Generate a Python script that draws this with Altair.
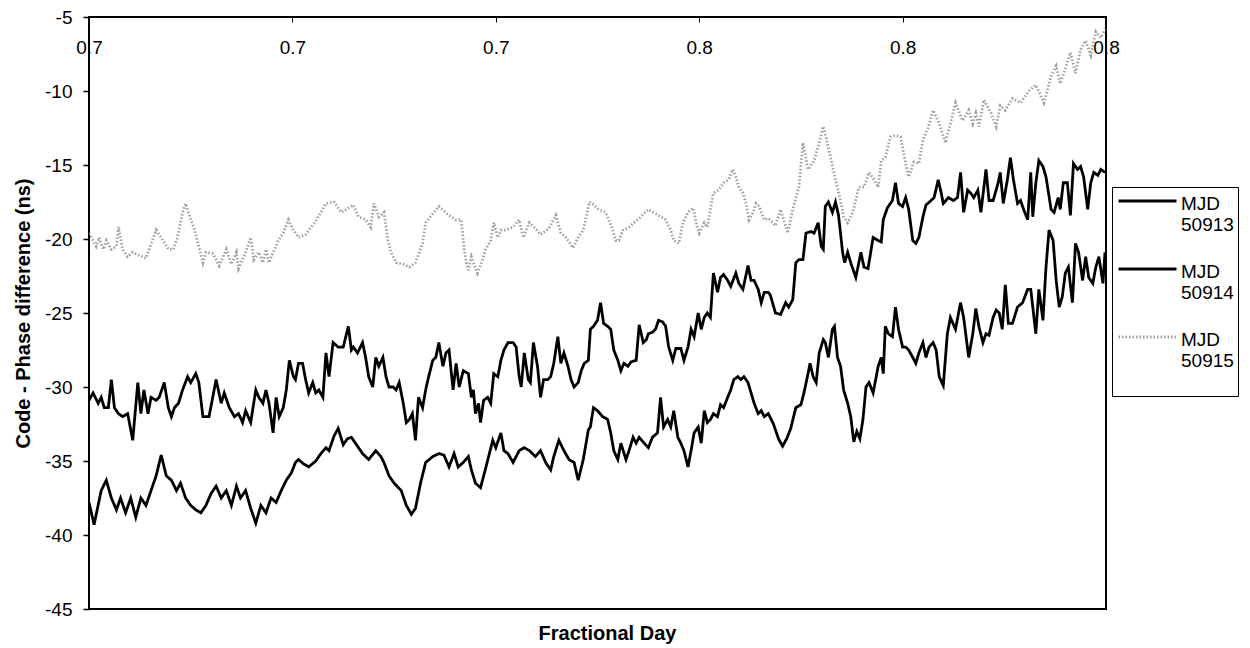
import altair as alt
import pandas as pd

FONT = "Liberation Sans"

series_names = ["MJD 50913", "MJD 50914", "MJD 50915"]
x_ticks = [0.70, 0.72, 0.74, 0.76, 0.78, 0.80]
y_ticks = [-45, -40, -35, -30, -25, -20, -15, -10, -5]

# (fractional day, code - phase difference in ns)
mjd50913 = [
    (0.7000,-30.9),(0.7004,-30.4),(0.7009,-31.1),(0.7012,-30.7),(0.7015,-31.4),(0.7019,-31.4),(0.7022,-29.5),(0.7025,-31.4),(0.7029,-31.8),(0.7033,-32.0),
    (0.7038,-31.8),(0.7043,-33.6),(0.7048,-29.7),(0.7051,-31.8),(0.7054,-30.2),(0.7058,-31.8),(0.7061,-30.7),(0.7066,-30.9),(0.7069,-30.7),(0.7074,-29.7),
    (0.7078,-31.4),(0.7081,-32.0),(0.7084,-31.4),(0.7088,-31.1),(0.7092,-30.2),(0.7097,-29.3),(0.7100,-29.7),(0.7105,-29.1),(0.7108,-29.7),(0.7112,-32.0),
    (0.7118,-32.0),(0.7125,-29.5),(0.7130,-31.1),(0.7133,-30.4),(0.7138,-31.4),(0.7143,-32.0),(0.7147,-31.8),(0.7151,-32.4),(0.7154,-31.6),(0.7159,-32.4),
    (0.7164,-30.2),(0.7167,-30.7),(0.7171,-31.1),(0.7174,-30.2),(0.7177,-31.1),(0.7181,-33.1),(0.7184,-30.7),(0.7187,-32.0),(0.7191,-31.4),(0.7194,-30.2),
    (0.7197,-28.2),(0.7201,-29.3),(0.7203,-29.5),(0.7206,-28.4),(0.7210,-28.4),(0.7213,-29.5),(0.7216,-30.4),(0.7220,-29.7),(0.7223,-30.4),(0.7226,-30.2),
    (0.7230,-30.7),(0.7233,-27.7),(0.7236,-29.3),(0.7240,-27.0),(0.7245,-27.3),(0.7250,-27.3),(0.7255,-25.9),(0.7258,-27.5),(0.7260,-27.3),(0.7264,-27.7),
    (0.7269,-27.0),(0.7272,-28.0),(0.7275,-29.3),(0.7279,-30.0),(0.7282,-28.0),(0.7285,-28.6),(0.7289,-28.0),(0.7292,-29.3),(0.7295,-30.0),(0.7299,-30.0),
    (0.7302,-30.2),(0.7305,-29.7),(0.7309,-31.1),(0.7312,-32.4),(0.7315,-32.2),(0.7318,-31.8),(0.7321,-33.6),(0.7324,-30.7),(0.7328,-31.4),(0.7331,-30.2),
    (0.7334,-29.3),(0.7338,-28.2),(0.7341,-28.0),(0.7344,-27.0),(0.7348,-28.6),(0.7351,-27.7),(0.7354,-27.5),(0.7358,-30.2),(0.7361,-28.4),(0.7364,-30.0),
    (0.7368,-28.9),(0.7373,-29.1),(0.7376,-30.7),(0.7378,-30.2),(0.7380,-31.8),(0.7383,-31.1),(0.7385,-32.4),(0.7388,-30.9),(0.7392,-30.7),(0.7395,-31.1),
    (0.7398,-29.1),(0.7402,-29.3),(0.7405,-28.2),(0.7408,-27.5),(0.7412,-27.0),(0.7417,-27.0),(0.7420,-27.3),(0.7423,-29.3),(0.7425,-30.0),(0.7428,-27.7),
    (0.7432,-29.5),(0.7434,-29.7),(0.7437,-27.0),(0.7441,-28.6),(0.7444,-30.7),(0.7447,-29.5),(0.7451,-29.5),(0.7454,-29.3),(0.7457,-28.4),(0.7461,-26.6),
    (0.7464,-28.4),(0.7467,-27.7),(0.7471,-28.6),(0.7474,-29.5),(0.7477,-30.0),(0.7481,-29.7),(0.7484,-28.9),(0.7487,-28.4),(0.7491,-28.2),(0.7493,-26.1),
    (0.7496,-25.9),(0.7500,-25.5),(0.7503,-24.3),(0.7506,-25.7),(0.7510,-25.9),(0.7513,-26.1),(0.7516,-27.5),(0.7520,-28.2),(0.7523,-28.9),(0.7526,-28.4),
    (0.7530,-28.6),(0.7533,-28.3),(0.7538,-28.2),(0.7541,-25.8),(0.7545,-27.0),(0.7548,-26.8),(0.7550,-26.4),(0.7554,-26.3),(0.7557,-26.1),(0.7560,-25.5),
    (0.7564,-25.6),(0.7567,-25.9),(0.7570,-27.3),(0.7574,-28.2),(0.7577,-27.4),(0.7582,-27.4),(0.7585,-28.2),(0.7589,-27.3),(0.7592,-26.1),(0.7595,-26.6),
    (0.7599,-25.0),(0.7602,-26.1),(0.7605,-25.3),(0.7608,-25.0),(0.7611,-25.3),(0.7614,-22.3),(0.7618,-23.6),(0.7621,-22.6),(0.7624,-22.4),(0.7628,-22.8),
    (0.7631,-23.2),(0.7636,-22.3),(0.7639,-23.0),(0.7643,-23.4),(0.7648,-21.8),(0.7651,-22.8),(0.7654,-22.8),(0.7658,-23.4),(0.7661,-24.3),(0.7664,-23.6),
    (0.7668,-23.6),(0.7670,-23.8),(0.7675,-25.0),(0.7680,-25.1),(0.7685,-24.3),(0.7688,-24.6),(0.7692,-24.1),(0.7695,-21.6),(0.7698,-21.4),(0.7702,-21.4),
    (0.7705,-19.6),(0.7710,-19.5),(0.7713,-19.6),(0.7717,-18.9),(0.7720,-20.5),(0.7722,-20.7),(0.7724,-17.8),(0.7727,-17.5),(0.7731,-18.2),(0.7734,-17.5),
    (0.7737,-18.4),(0.7741,-20.9),(0.7743,-21.6),(0.7746,-20.9),(0.7749,-21.6),(0.7754,-22.6),(0.7759,-20.9),(0.7762,-21.9),(0.7766,-22.0),(0.7771,-19.9),
    (0.7776,-20.1),(0.7779,-20.2),(0.7781,-18.7),(0.7785,-17.9),(0.7790,-17.4),(0.7793,-16.2),(0.7796,-17.6),(0.7800,-17.8),(0.7803,-17.2),(0.7806,-18.0),
    (0.7810,-20.1),(0.7813,-20.3),(0.7816,-19.9),(0.7820,-18.5),(0.7823,-17.7),(0.7828,-17.4),(0.7831,-17.2),(0.7835,-16.0),(0.7838,-16.9),(0.7840,-17.6),
    (0.7845,-17.2),(0.7850,-17.4),(0.7854,-17.2),(0.7857,-15.5),(0.7860,-18.2),(0.7864,-16.7),(0.7867,-16.9),(0.7870,-17.2),(0.7874,-16.7),(0.7877,-18.2),
    (0.7882,-15.3),(0.7885,-17.4),(0.7889,-17.4),(0.7894,-16.2),(0.7896,-15.5),(0.7899,-17.6),(0.7903,-16.0),(0.7906,-14.5),(0.7909,-16.0),(0.7913,-17.6),
    (0.7916,-17.4),(0.7919,-18.0),(0.7923,-18.7),(0.7926,-15.5),(0.7928,-18.5),(0.7931,-16.2),(0.7934,-14.7),(0.7938,-15.1),(0.7941,-15.8),(0.7946,-18.0),
    (0.7949,-18.2),(0.7953,-17.2),(0.7955,-18.0),(0.7958,-16.2),(0.7962,-16.2),(0.7965,-18.4),(0.7968,-14.9),(0.7972,-15.3),(0.7975,-15.1),(0.7978,-15.8),
    (0.7982,-18.0),(0.7985,-16.2),(0.7988,-15.5),(0.7992,-15.7),(0.7995,-15.3),(0.7999,-15.5),
]

mjd50914 = [
    (0.7000,-37.8),(0.7005,-39.3),(0.7012,-37.0),(0.7017,-36.3),(0.7022,-37.5),(0.7027,-38.3),(0.7031,-37.5),(0.7036,-38.5),(0.7041,-37.5),(0.7046,-38.8),
    (0.7051,-37.5),(0.7056,-38.0),(0.7061,-37.0),(0.7066,-36.0),(0.7071,-34.6),(0.7076,-36.0),(0.7081,-36.3),(0.7086,-37.0),(0.7090,-36.5),(0.7095,-37.5),
    (0.7100,-38.0),(0.7105,-38.3),(0.7110,-38.5),(0.7115,-38.0),(0.7120,-37.2),(0.7125,-36.7),(0.7130,-37.5),(0.7135,-37.0),(0.7140,-38.0),(0.7145,-36.7),
    (0.7149,-37.5),(0.7154,-37.0),(0.7159,-38.2),(0.7164,-39.2),(0.7169,-38.0),(0.7174,-38.5),(0.7179,-37.5),(0.7184,-37.8),(0.7189,-37.0),(0.7194,-36.3),
    (0.7199,-35.8),(0.7203,-35.1),(0.7206,-34.9),(0.7211,-35.2),(0.7216,-35.4),(0.7223,-35.0),(0.7228,-34.5),(0.7233,-34.1),(0.7236,-34.3),(0.7241,-33.3),
    (0.7245,-32.8),(0.7250,-33.9),(0.7254,-33.5),(0.7258,-33.4),(0.7262,-33.8),(0.7269,-34.5),(0.7275,-34.9),(0.7282,-34.3),(0.7287,-34.7),(0.7290,-35.1),
    (0.7295,-36.0),(0.7300,-36.5),(0.7307,-37.0),(0.7312,-38.0),(0.7317,-38.6),(0.7321,-38.2),(0.7326,-36.5),(0.7331,-35.1),(0.7338,-34.7),(0.7344,-34.5),
    (0.7349,-34.6),(0.7354,-35.4),(0.7359,-34.5),(0.7363,-35.4),(0.7368,-35.1),(0.7373,-34.7),(0.7376,-35.6),(0.7380,-36.5),(0.7385,-36.8),(0.7390,-35.5),
    (0.7397,-33.6),(0.7400,-34.1),(0.7405,-33.1),(0.7408,-34.3),(0.7412,-34.5),(0.7417,-35.1),(0.7423,-34.3),(0.7428,-34.1),(0.7433,-34.3),(0.7439,-34.7),
    (0.7444,-34.3),(0.7449,-35.1),(0.7454,-35.6),(0.7457,-34.7),(0.7462,-33.6),(0.7467,-34.3),(0.7472,-34.9),(0.7477,-35.1),(0.7481,-36.3),(0.7486,-34.9),
    (0.7491,-32.9),(0.7493,-32.7),(0.7496,-31.4),(0.7500,-31.6),(0.7505,-32.0),(0.7510,-32.2),(0.7513,-33.1),(0.7516,-34.3),(0.7520,-34.9),(0.7523,-33.8),
    (0.7528,-34.9),(0.7531,-34.3),(0.7535,-33.4),(0.7538,-33.8),(0.7541,-33.4),(0.7546,-33.8),(0.7550,-34.1),(0.7554,-33.4),(0.7559,-33.1),(0.7562,-30.7),
    (0.7565,-32.7),(0.7569,-32.2),(0.7572,-32.7),(0.7575,-31.6),(0.7579,-33.4),(0.7582,-33.8),(0.7585,-34.3),(0.7589,-35.4),(0.7592,-34.3),(0.7595,-33.1),
    (0.7599,-32.7),(0.7602,-33.8),(0.7605,-31.6),(0.7608,-32.4),(0.7611,-32.2),(0.7614,-31.8),(0.7618,-32.0),(0.7621,-31.2),(0.7624,-31.4),(0.7628,-30.7),
    (0.7631,-30.2),(0.7634,-29.5),(0.7638,-29.3),(0.7641,-29.5),(0.7644,-29.3),(0.7648,-29.7),(0.7651,-30.4),(0.7654,-31.1),(0.7658,-31.8),(0.7661,-31.6),
    (0.7664,-32.0),(0.7668,-31.8),(0.7673,-32.5),(0.7678,-33.5),(0.7682,-34.0),(0.7686,-33.5),(0.7690,-32.8),(0.7695,-31.4),(0.7700,-31.2),(0.7703,-30.4),
    (0.7707,-29.1),(0.7709,-28.4),(0.7712,-29.3),(0.7715,-29.7),(0.7718,-27.7),(0.7722,-26.8),(0.7724,-27.0),(0.7727,-28.0),(0.7731,-26.1),(0.7733,-25.9),
    (0.7736,-28.0),(0.7739,-28.6),(0.7742,-30.2),(0.7746,-31.1),(0.7749,-32.0),(0.7752,-33.7),(0.7755,-33.0),(0.7758,-33.5),(0.7761,-32.2),(0.7764,-30.0),
    (0.7767,-29.7),(0.7771,-30.4),(0.7776,-28.6),(0.7779,-28.0),(0.7781,-29.1),(0.7783,-25.9),(0.7786,-26.4),(0.7790,-26.6),(0.7793,-24.6),(0.7796,-26.1),
    (0.7800,-27.3),(0.7803,-27.3),(0.7806,-27.5),(0.7810,-28.0),(0.7813,-28.4),(0.7816,-27.7),(0.7820,-27.0),(0.7823,-28.0),(0.7826,-27.3),(0.7830,-27.0),
    (0.7833,-27.5),(0.7836,-29.3),(0.7840,-29.9),(0.7844,-26.4),(0.7847,-25.3),(0.7852,-26.1),(0.7857,-24.3),(0.7860,-25.3),(0.7865,-28.0),(0.7869,-26.4),
    (0.7872,-24.7),(0.7875,-25.9),(0.7879,-27.0),(0.7882,-26.4),(0.7885,-26.5),(0.7889,-25.3),(0.7892,-24.8),(0.7895,-25.0),(0.7898,-26.1),(0.7901,-23.1),
    (0.7904,-25.7),(0.7908,-25.7),(0.7913,-24.6),(0.7918,-24.3),(0.7923,-23.4),(0.7926,-23.4),(0.7931,-26.4),(0.7934,-23.4),(0.7938,-25.5),(0.7941,-21.9),
    (0.7944,-19.4),(0.7948,-20.1),(0.7951,-22.8),(0.7954,-24.6),(0.7957,-23.9),(0.7960,-22.3),(0.7963,-21.9),(0.7967,-24.3),(0.7970,-20.3),(0.7973,-20.9),
    (0.7977,-22.8),(0.7980,-21.2),(0.7983,-22.6),(0.7987,-23.0),(0.7990,-21.9),(0.7993,-21.2),(0.7997,-23.0),(0.7999,-20.9),
]

mjd50915 = [
    (0.7000,-19.6),(0.7004,-20.1),(0.7007,-20.5),(0.7010,-19.9),(0.7014,-20.7),(0.7017,-20.1),(0.7022,-20.7),(0.7027,-20.5),(0.7029,-19.2),(0.7033,-20.7),
    (0.7038,-21.2),(0.7043,-20.9),(0.7049,-21.1),(0.7056,-21.3),(0.7066,-19.4),(0.7073,-20.1),(0.7078,-20.7),(0.7083,-20.7),(0.7087,-19.9),(0.7092,-18.2),
    (0.7095,-17.6),(0.7100,-18.7),(0.7103,-19.2),(0.7108,-20.5),(0.7112,-21.6),(0.7115,-20.9),(0.7122,-21.0),(0.7128,-21.8),(0.7135,-20.7),(0.7140,-21.7),
    (0.7145,-20.9),(0.7147,-22.0),(0.7154,-20.9),(0.7159,-19.9),(0.7162,-21.4),(0.7167,-20.9),(0.7171,-21.6),(0.7174,-20.7),(0.7177,-21.6),(0.7181,-20.9),
    (0.7184,-20.5),(0.7186,-20.1),(0.7191,-19.6),(0.7196,-18.7),(0.7201,-19.4),(0.7206,-19.9),(0.7213,-19.7),(0.7223,-18.8),(0.7233,-17.6),(0.7241,-17.5),
    (0.7248,-18.2),(0.7253,-18.0),(0.7260,-17.7),(0.7265,-18.5),(0.7272,-18.7),(0.7277,-19.2),(0.7280,-17.6),(0.7285,-18.5),(0.7290,-18.2),(0.7294,-20.1),
    (0.7297,-20.9),(0.7302,-21.6),(0.7309,-21.7),(0.7315,-21.9),(0.7321,-21.6),(0.7328,-20.3),(0.7331,-18.9),(0.7338,-18.3),(0.7344,-17.8),(0.7354,-18.4),
    (0.7361,-18.7),(0.7366,-18.7),(0.7369,-20.7),(0.7371,-21.6),(0.7373,-22.1),(0.7376,-21.2),(0.7378,-21.6),(0.7382,-22.3),(0.7387,-21.4),(0.7390,-20.7),
    (0.7395,-20.1),(0.7398,-18.9),(0.7402,-19.9),(0.7405,-19.4),(0.7410,-19.4),(0.7417,-19.2),(0.7423,-18.7),(0.7427,-19.9),(0.7433,-18.9),(0.7439,-19.3),
    (0.7444,-19.7),(0.7452,-19.3),(0.7459,-18.4),(0.7464,-19.6),(0.7469,-19.9),(0.7476,-20.6),(0.7481,-19.9),(0.7486,-19.4),(0.7489,-18.5),(0.7492,-17.5),
    (0.7495,-17.6),(0.7501,-18.0),(0.7508,-18.2),(0.7511,-18.7),(0.7515,-19.4),(0.7518,-20.1),(0.7521,-20.1),(0.7525,-19.4),(0.7531,-19.2),(0.7541,-18.6),
    (0.7550,-18.0),(0.7560,-18.4),(0.7567,-18.7),(0.7572,-19.4),(0.7575,-20.1),(0.7580,-20.3),(0.7584,-18.9),(0.7589,-18.2),(0.7594,-17.9),(0.7597,-18.9),
    (0.7600,-19.6),(0.7605,-18.9),(0.7608,-19.2),(0.7611,-18.0),(0.7614,-16.9),(0.7619,-16.7),(0.7624,-16.2),(0.7629,-16.0),(0.7633,-15.3),(0.7636,-15.8),
    (0.7639,-16.5),(0.7643,-16.9),(0.7646,-17.6),(0.7649,-18.7),(0.7653,-18.2),(0.7656,-17.6),(0.7659,-17.8),(0.7664,-18.7),(0.7668,-18.6),(0.7675,-19.1),
    (0.7680,-18.0),(0.7687,-19.6),(0.7692,-18.0),(0.7698,-16.5),(0.7702,-13.5),(0.7707,-15.3),(0.7713,-14.7),(0.7718,-13.5),(0.7722,-12.4),(0.7727,-13.8),
    (0.7734,-16.0),(0.7739,-17.4),(0.7742,-18.5),(0.7746,-18.9),(0.7751,-18.2),(0.7757,-16.5),(0.7762,-16.5),(0.7767,-15.5),(0.7772,-16.0),(0.7776,-16.5),
    (0.7779,-14.7),(0.7783,-14.5),(0.7788,-13.1),(0.7793,-13.0),(0.7798,-13.1),(0.7803,-14.9),(0.7806,-15.8),(0.7811,-14.8),(0.7816,-14.9),(0.7820,-13.3),
    (0.7825,-12.5),(0.7830,-11.3),(0.7836,-12.2),(0.7842,-13.5),(0.7847,-12.2),(0.7852,-10.8),(0.7859,-12.0),(0.7865,-11.3),(0.7869,-12.2),(0.7872,-11.5),
    (0.7875,-12.4),(0.7880,-10.6),(0.7887,-11.5),(0.7892,-12.4),(0.7896,-11.0),(0.7901,-11.3),(0.7908,-10.5),(0.7916,-10.8),(0.7924,-10.0),(0.7931,-9.6),
    (0.7939,-10.8),(0.7946,-9.0),(0.7951,-8.3),(0.7955,-9.5),(0.7960,-8.5),(0.7965,-7.4),(0.7970,-8.8),(0.7975,-7.2),(0.7980,-6.6),(0.7985,-7.6),
    (0.7990,-6.0),(0.7995,-6.4),(0.7999,-5.8),
]

rows = []
for name, pts in zip(series_names, [mjd50913, mjd50914, mjd50915]):
    for d, v in pts:
        rows.append({"series": name, "day": d, "ns": v})
df = pd.DataFrame(rows)

legend = alt.Legend(
    orient="none", legendX=1023, legendY=170, title=None,
    strokeColor="black", fillColor="white", padding=4,
    symbolType="M-0.91,-0.26L4.13,-0.26", symbolSize=529,
    labelFont=FONT, labelFontSize=19, labelColor="black", labelOffset=39,
    labelLimit=300,
    labelExpr="datum.label == 'MJD 50915' ? ['MJD', '50915', ' '] : split(datum.label, ' ')",
    rowPadding=24,
)

chart = (
    alt.Chart(df)
    .mark_line(clip=True)
    .encode(
        x=alt.X(
            "day:Q",
            scale=alt.Scale(domain=[0.70, 0.80], nice=False, zero=False),
            axis=alt.Axis(
                orient="bottom", offset=-592, values=x_ticks, format=".1f",
                tickSize=5, tickColor="black", labelPadding=16, domain=False, grid=False,
                title=None, labelFont=FONT, labelFontSize=19, labelColor="black",
                labelFlush=False, labelOverlap=False,
            ),
        ),
        y=alt.Y(
            "ns:Q",
            scale=alt.Scale(domain=[-45, -5], nice=False, zero=False),
            axis=alt.Axis(
                values=y_ticks, labelExpr="'' + datum.value",
                title="Code - Phase difference (ns)", domain=False, grid=False,
                tickSize=6, tickColor="black", tickWidth=1.5, labelPadding=11,
                labelFont=FONT, labelFontSize=19, labelColor="black",
                titleFont=FONT, titleFontSize=20, titleFontWeight="bold", titleColor="black",
                titlePadding=11,
            ),
        ),
        color=alt.Color("series:N", scale=alt.Scale(domain=series_names, range=["black", "black", "#a0a0a0"]), legend=legend),
        strokeDash=alt.StrokeDash("series:N", scale=alt.Scale(domain=series_names, range=[[1, 0], [1, 0], [1.5, 2]]), legend=legend),
        strokeWidth=alt.StrokeWidth("series:N", scale=alt.Scale(domain=series_names, range=[2.8, 2.8, 1.2]), legend=legend),
    )
    .properties(
        width=1017, height=592,
        padding={"left": 5, "top": 0, "right": 0, "bottom": 0},
        title=alt.TitleParams(
            "Fractional Day", orient="bottom", anchor="middle", dx=10,
            font=FONT, fontSize=20, fontWeight="bold", color="black", offset=5,
        ),
    )
    .configure_view(stroke="black", strokeWidth=2)
)

chart.save("out.html", embed_options={"renderer": "svg", "actions": False})
